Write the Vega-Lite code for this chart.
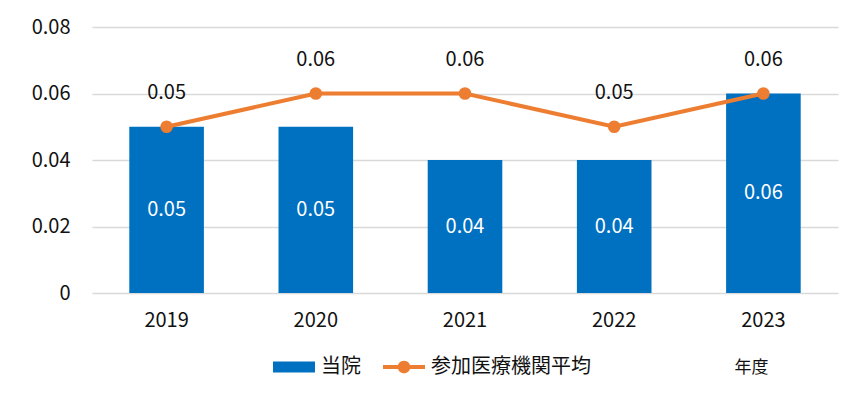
{
  "$schema": "https://vega.github.io/schema/vega-lite/v6.json",
  "width": 746,
  "height": 266,
  "autosize": "none",
  "padding": {"left": 92, "top": 27, "right": 21, "bottom": 104},
  "background": "white",
  "config": {
    "view": {"stroke": null},
    "font": "Noto Sans CJK JP",
    "axis": {"labelFont": "Noto Sans CJK JP", "labelFontSize": 20, "labelColor": "#111111", "titleFont": "Noto Sans CJK JP"}
  },
  "data": {
    "values": [
      {"year": "2019", "series": "当院", "v": 0.05},
      {"year": "2020", "series": "当院", "v": 0.05},
      {"year": "2021", "series": "当院", "v": 0.04},
      {"year": "2022", "series": "当院", "v": 0.04},
      {"year": "2023", "series": "当院", "v": 0.06},
      {"year": "2019", "series": "参加医療機関平均", "v": 0.05},
      {"year": "2020", "series": "参加医療機関平均", "v": 0.06},
      {"year": "2021", "series": "参加医療機関平均", "v": 0.06},
      {"year": "2022", "series": "参加医療機関平均", "v": 0.05},
      {"year": "2023", "series": "参加医療機関平均", "v": 0.06}
    ]
  },
  "encoding": {
    "x": {
      "field": "year", "type": "ordinal",
      "scale": {"paddingInner": 0.5, "paddingOuter": 0.25},
      "axis": {
        "labelAngle": 0, "domain": false, "ticks": false, "labelPadding": 17,
        "title": "年度", "titleFontSize": 17, "titleFontWeight": "normal", "titleColor": "#111111",
        "titleX": 659, "titleY": 74, "titleAlign": "center", "titleBaseline": "middle", "titleAnchor": null
      }
    }
  },
  "layer": [
    {
      "transform": [{"filter": "datum.series === '当院'"}],
      "mark": {"type": "bar"},
      "encoding": {
        "y": {
          "field": "v", "type": "quantitative",
          "scale": {"domain": [0, 0.08]},
          "axis": {
            "values": [0, 0.02, 0.04, 0.06, 0.08],
            "labelExpr": "datum.value === 0 ? '0' : format(datum.value, '.2f')",
            "domain": false, "ticks": false, "labelPadding": 22,
            "gridColor": "#d9d9d9", "gridWidth": 1.5, "title": null
          }
        },
        "color": {
          "field": "series", "type": "nominal",
          "scale": {"domain": ["当院", "参加医療機関平均"], "range": ["#0070C0", "#ED7D31"]},
          "legend": {
            "orient": "none", "legendX": 181, "legendY": 319, "direction": "horizontal",
            "title": null, "labelFontSize": 20, "labelColor": "#111111", "labelFont": "Noto Sans CJK JP",
            "symbolSize": 1764, "labelOffset": 6, "columnPadding": 22,
            "symbolStrokeWidth": 0,
            "encode": {
              "symbols": {
                "update": {
                  "shape": {"signal": "datum.label === '当院' ? 'M-1,-0.26 L1,-0.26 L1,0.26 L-1,0.26 Z' : 'M-1,-0.1 L1,-0.1 L1,0.1 L-1,0.1 Z M0.3,0 A0.3,0.3 0 1,1 -0.3,0 A0.3,0.3 0 1,1 0.3,0 Z'"},
                  "fill": {"signal": "datum.label === '当院' ? '#0070C0' : '#ED7D31'"},
                  "strokeWidth": {"value": 0},
                  "opacity": {"value": 1}
                }
              }
            }
          }
        }
      }
    },
    {
      "transform": [{"filter": "datum.series === '当院'"}, {"calculate": "datum.v / 2", "as": "mid"}],
      "mark": {"type": "text", "color": "white", "fontSize": 20, "font": "Noto Sans CJK JP", "baseline": "middle"},
      "encoding": {
        "y": {"field": "mid", "type": "quantitative", "scale": {"domain": [0, 0.08]}},
        "text": {"field": "v", "type": "quantitative", "format": ".2f"}
      }
    },
    {
      "transform": [{"filter": "datum.series === '参加医療機関平均'"}],
      "mark": {"type": "line", "strokeWidth": 4, "point": {"filled": true, "size": 160, "opacity": 1}},
      "encoding": {
        "y": {"field": "v", "type": "quantitative", "scale": {"domain": [0, 0.08]}},
        "color": {"field": "series", "type": "nominal"}
      }
    },
    {
      "transform": [{"filter": "datum.series === '参加医療機関平均'"}],
      "mark": {"type": "text", "color": "#111111", "fontSize": 20, "font": "Noto Sans CJK JP", "baseline": "middle", "dy": -34},
      "encoding": {
        "y": {"field": "v", "type": "quantitative", "scale": {"domain": [0, 0.08]}},
        "text": {"field": "v", "type": "quantitative", "format": ".2f"}
      }
    }
  ]
}
